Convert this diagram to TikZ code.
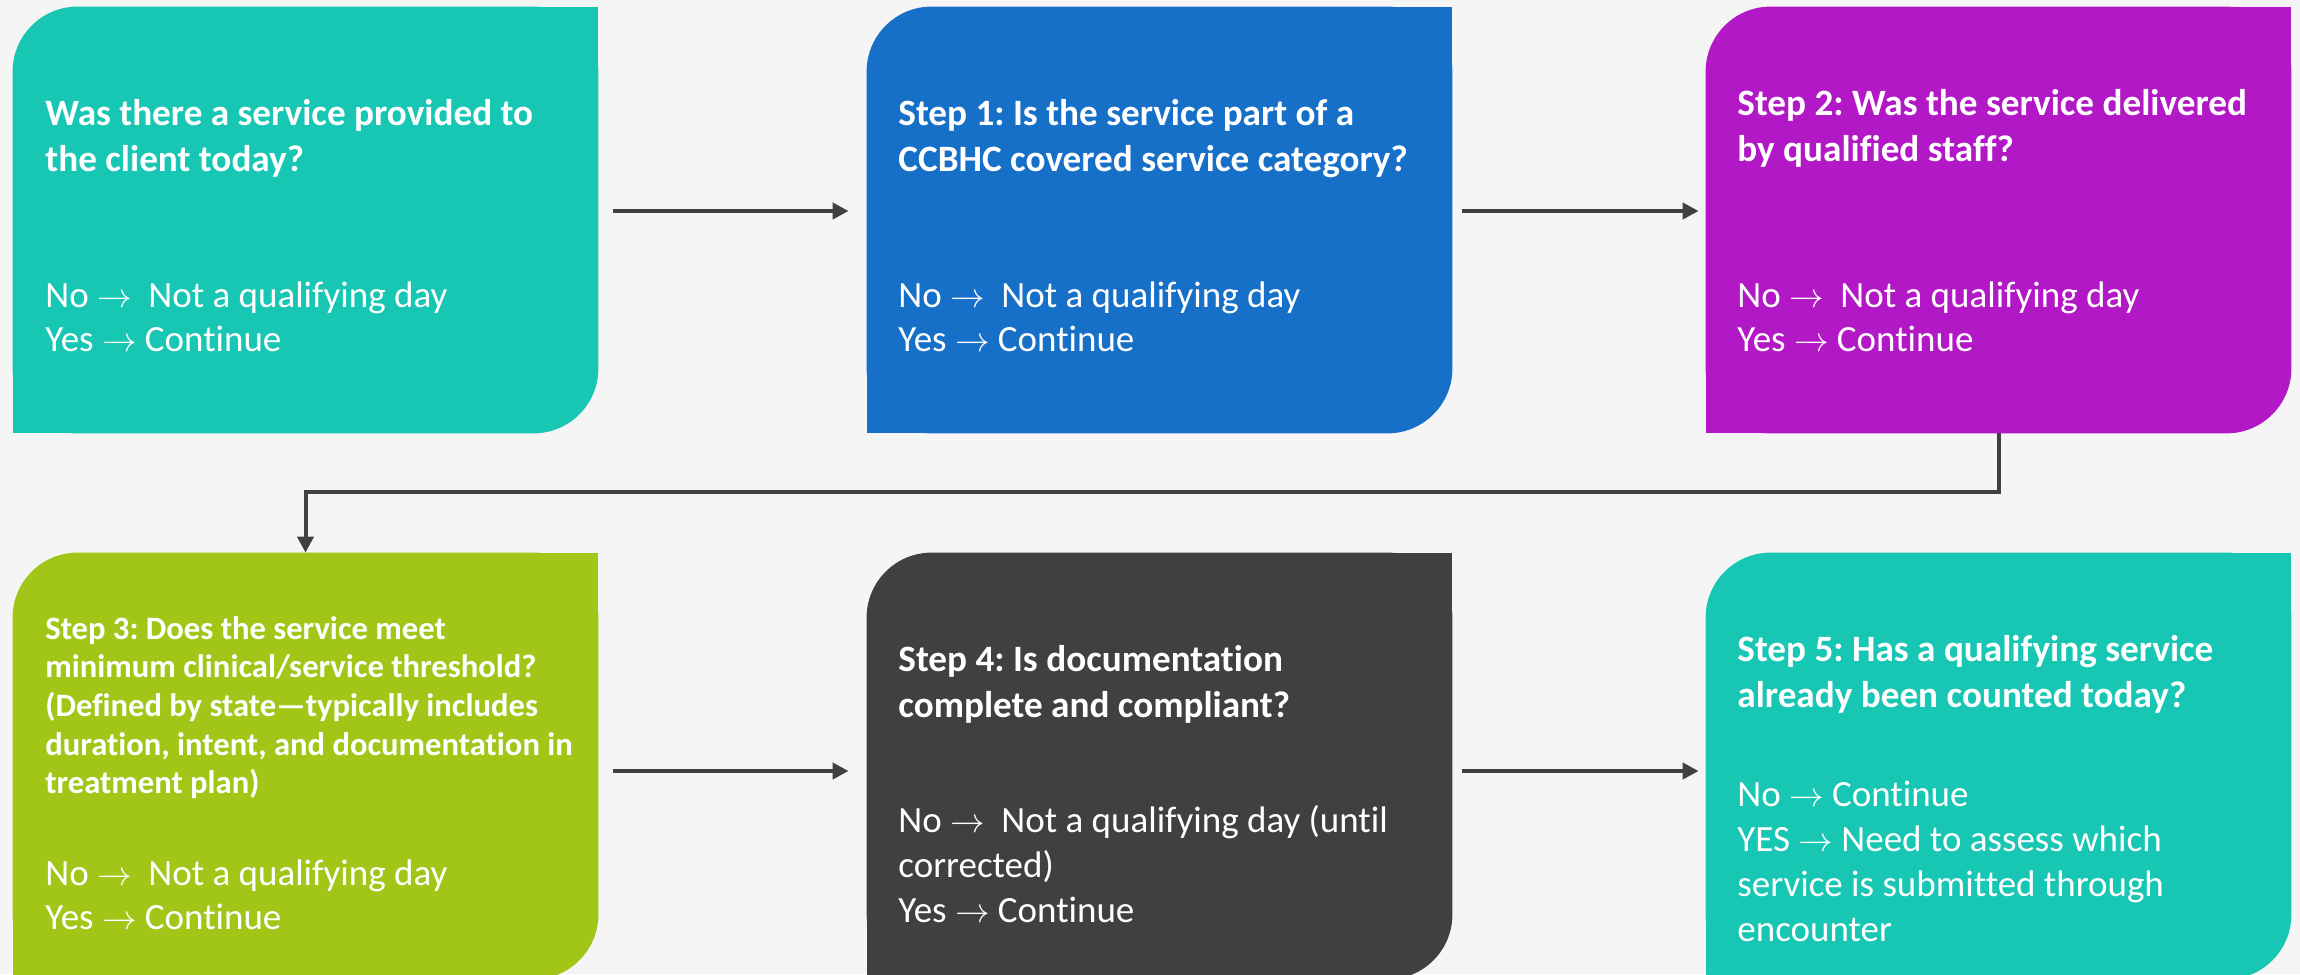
\documentclass[tikz,border=0pt]{standalone}
\usepackage{fontspec}
\setmainfont{Carlito}[Ligatures={NoCommon}]
\usetikzlibrary{arrows.meta,calc}
\frenchspacing

\definecolor{pagebg}{RGB}{245,245,245}
\definecolor{tealbox}{RGB}{23,198,179}
\definecolor{bluebox}{RGB}{23,112,200}
\definecolor{purplebox}{RGB}{178,24,197}
\definecolor{greenbox}{RGB}{162,198,23}
\definecolor{darkbox}{RGB}{64,64,64}
\definecolor{connector}{RGB}{64,64,64}

\newcommand{\ra}{$\rightarrow$}

% a step card: square top-right and bottom-left corners, rounded elsewhere
\newcommand{\card}[2]{%
  \fill[#2, rounded corners=32.5pt] (#1.south west) rectangle (#1.north east);
  \fill[#2] (#1.north east) rectangle ++(-40pt,-40pt);
  \fill[#2] (#1.south west) rectangle ++(40pt,40pt);
}

\tikzset{
  frame/.style={rectangle, inner sep=0pt, minimum width=292.5pt, minimum height=213pt},
  head/.style={anchor=north west, inner sep=0pt, align=left, text=white,
    font=\fontsize{18.6}{22.75}\selectfont\bfseries},
  smallhead/.style={head, font=\fontsize{16.3}{19.3}\selectfont\bfseries},
  body/.style={anchor=north west, inner sep=0pt, align=left, text=white,
    font=\fontsize{18.5}{22.4}\selectfont},
  conn/.style={draw=connector, line width=2pt,
    -{Triangle[length=8pt,width=8pt]}},
}

\begin{document}
\begin{tikzpicture}[x=0.5pt, y=-0.5pt]
\fill[pagebg] (0,0) rectangle (2300,974);
\useasboundingbox (0,0) rectangle (2300,974);

\begin{scope}
\clip (0,0) rectangle (2300,974);
% card frames
\node[frame] (b1) at (305.5,220) {};
\node[frame] (b2) at (1159.5,220) {};
\node[frame] (b3) at (1998.5,220) {};
\node[frame] (b4) at (305.5,766) {};
\node[frame] (b5) at (1159.5,766) {};
\node[frame] (b6) at (1998.5,766) {};

\card{b1}{tealbox}
\card{b2}{bluebox}
\card{b3}{purplebox}
\card{b4}{greenbox}
\card{b5}{darkbox}
\card{b6}{tealbox}
\end{scope}

% card texts
\node[head] (h1) at (45,99) {Was there a service provided to\\the client today?};
\node[body] (t1) at (45,281) {No \ra\ \ Not a qualifying day\\Yes \ra\ Continue};

\node[head] (h2) at (898,99) {Step 1: Is the service part of a\\CCBHC covered service category?};
\node[body] (t2) at (898,281) {No \ra\ \ Not a qualifying day\\Yes \ra\ Continue};

\node[head] (h3) at (1737,89) {Step 2: Was the service delivered\\by qualified staff?};
\node[body] (t3) at (1737,281) {No \ra\ \ Not a qualifying day\\Yes \ra\ Continue};

\node[smallhead] (h4) at (45,616) {Step 3: Does the service meet\\minimum clinical/service threshold?\\(Defined by state—typically includes\\duration, intent, and documentation in\\treatment plan)};
\node[body] (t4) at (45,859) {No \ra\ \ Not a qualifying day\\Yes \ra\ Continue};

\node[head] (h5) at (898,645) {Step 4: Is documentation\\complete and compliant?};
\node[body] (t5) at (898,805) {No \ra\ \ Not a qualifying day (until\\corrected)\\Yes \ra\ Continue};

\node[head] (h6) at (1737,635) {Step 5: Has a qualifying service\\already been counted today?};
\node[body] (t6) at (1737,781) {No \ra\ Continue\\YES \ra\ Need to assess which\\service is submitted through\\encounter};

% connectors
\draw[conn, shorten <=7.5pt, shorten >=9pt] ([yshift=4.5pt]b1.east) -- ([yshift=4.5pt]b2.west);
\draw[conn, shorten <=5pt, shorten >=3.5pt] ([yshift=4.5pt]b2.east) -- ([yshift=4.5pt]b3.west);
\draw[conn, shorten <=7.5pt, shorten >=9pt] ([yshift=-2.5pt]b4.east) -- ([yshift=-2.5pt]b5.west);
\draw[conn, shorten <=5pt, shorten >=3.5pt] ([yshift=-2.5pt]b5.east) -- ([yshift=-2.5pt]b6.west);
\draw[conn] (b3.south) -- ++(0,59) -| (b4.north);
\end{tikzpicture}
\end{document}
